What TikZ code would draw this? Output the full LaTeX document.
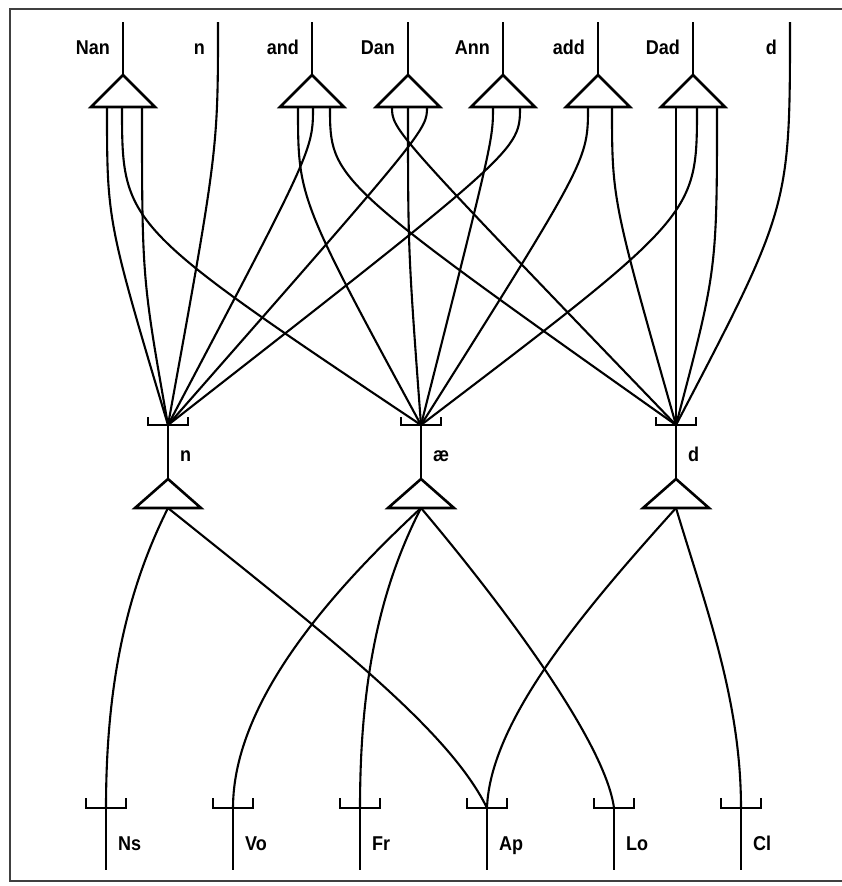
\documentclass[tikz,border=0pt]{standalone}
\usepackage{fontspec}
\setmainfont{Liberation Sans}[FakeStretch=0.9]
\newcommand\lblfont{\fontsize{20}{24}\selectfont\bfseries}
\begin{document}
\begin{tikzpicture}[x=1pt,y=-1pt,
  wire/.style={line width=2.1pt},
  tri/.style={line width=2.6pt,line join=miter},
  brk/.style={line width=2.6pt},
  lab/.style={font=\lblfont,inner sep=0pt},
  frame/.style={line width=2pt,draw=black!75}]
\useasboundingbox (0,0) rectangle (842,886);
% frame
\draw[frame] (842,9) -- (10,9) -- (10,881) -- (842,881);
% top word units with triangles
\foreach \nm/\x in {Nan/123,and/312,Dan/408,Ann/503,add/598,Dad/693}{
  \coordinate (\nm-top) at (\x,22);
  \coordinate (\nm-apex) at (\x,75);
  \draw[wire] (\nm-top) -- (\nm-apex);
  \draw[tri] (\nm-apex) -- ++(-32,32) -- ++(64,0) -- cycle;
  \node[lab,anchor=base east] (\nm-lab) at (\x-13,54) {\nm};
}
% top single-line words
\coordinate (n-top) at (218,22);
\node[lab,anchor=base east] (n-lab) at (205,54) {n};
\coordinate (d-top) at (790,22);
\node[lab,anchor=base east] (d-lab) at (777,54) {d};
% start points on triangle bases
\coordinate (Nan1) at (107,107); \coordinate (Nan2) at (122,107); \coordinate (Nan3) at (142,107);
\coordinate (and1) at (298,107); \coordinate (and2) at (313,107); \coordinate (and3) at (330,107);
\coordinate (Dan1) at (392,107); \coordinate (Dan2) at (408,107); \coordinate (Dan3) at (427,107);
\coordinate (Ann1) at (493,107); \coordinate (Ann2) at (520,107);
\coordinate (add1) at (588,107); \coordinate (add2) at (612,107);
\coordinate (Dad1) at (676,107); \coordinate (Dad2) at (697,107); \coordinate (Dad3) at (717,107);
% phoneme junctions
\foreach \nm/\x/\t in {jn/168/n,jae/421/æ,jd/676/d}{
  \coordinate (\nm) at (\x,425);
  \coordinate (\nm-apex) at (\x,479);
  \coordinate (\nm-base) at (\x,508);
  \draw[brk] (\x-20,417) -- (\x-20,425) -- (\x+20,425) -- (\x+20,417);
  \draw[wire] (\nm) -- (\nm-apex);
  \draw[tri] (\nm-apex) -- ++(-33,29) -- ++(66,0) -- cycle;
  \node[lab,anchor=base west] (\nm-lab) at (\x+12,461) {\t};
}
% bottom feature units
\foreach \nm/\x in {Ns/106,Vo/233,Fr/360,Ap/487,Lo/614,Cl/741}{
  \coordinate (\nm) at (\x,808);
  \coordinate (\nm-end) at (\x,870);
  \draw[brk] (\x-20,798) -- (\x-20,808) -- (\x+20,808) -- (\x+20,798);
  \draw[wire] (\nm) -- (\nm-end);
  \node[lab,anchor=base west] (\nm-lab) at (\x+12,850) {\nm};
}
% word -> phoneme connections
\draw[wire] (Nan1) .. controls (107,221) .. (jn);
\draw[wire] (Nan2) .. controls (122,225) .. (jae);
\draw[wire] (Nan3) .. controls (142,278) .. (jn);
\draw[wire] (n-top) .. controls (218,150) .. (jn);
\draw[wire] (and1) .. controls (298,198) .. (jae);
\draw[wire] (and2) .. controls (313,150) .. (jn);
\draw[wire] (and3) .. controls (330,180) .. (jd);
\draw[wire] (Dan1) .. controls (392,130) .. (jd);
\draw[wire] (Dan2) .. controls (408,250) .. (jae);
\draw[wire] (Dan3) .. controls (427,130) .. (jn);
\draw[wire] (Ann1) .. controls (493,140) .. (jae);
\draw[wire] (Ann2) .. controls (520,150) .. (jn);
\draw[wire] (add1) .. controls (588,160) .. (jae);
\draw[wire] (add2) .. controls (612,200) .. (jd);
\draw[wire] (Dad1) -- (jd);
\draw[wire] (Dad2) .. controls (697,215) .. (jae);
\draw[wire] (Dad3) .. controls (717,270) .. (jd);
\draw[wire] (d-top) .. controls (790,207) .. (jd);
% phoneme -> feature connections
\draw[wire] (jn-base) .. controls (128,588) and (106,680) .. (Ns);
\draw[wire] (jn-base) .. controls (330,638) and (449,730) .. (Ap);
\draw[wire] (jae-base) .. controls (335,588) and (233,700) .. (Vo);
\draw[wire] (jae-base) .. controls (380,588) and (360,680) .. (Fr);
\draw[wire] (jae-base) .. controls (497,598) and (605,740) .. (Lo);
\draw[wire] (jd-base) .. controls (586,608) and (490,720) .. (Ap);
\draw[wire] (jd-base) .. controls (706,608) and (741,700) .. (Cl);
\end{tikzpicture}
\end{document}
